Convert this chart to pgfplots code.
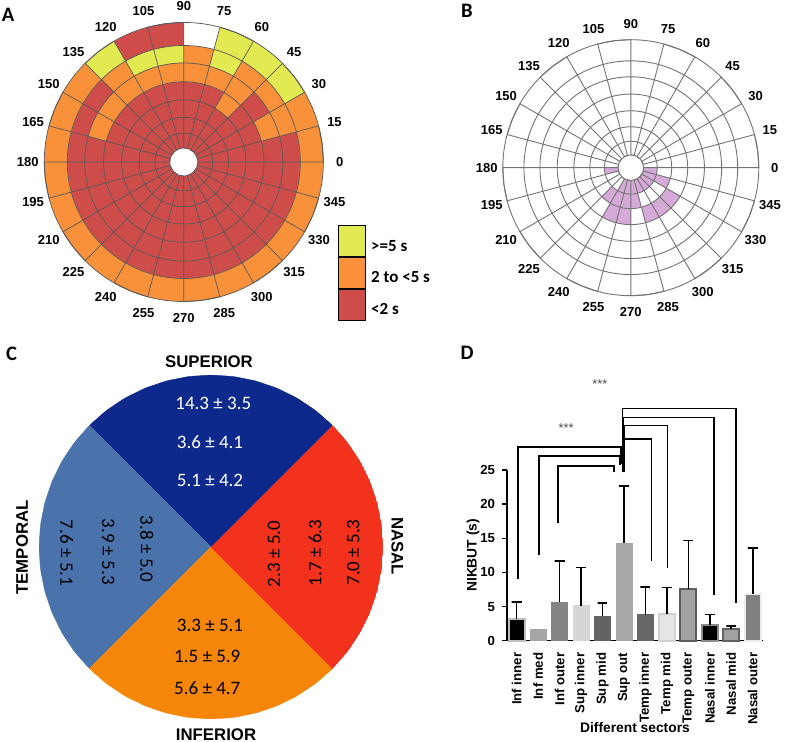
\documentclass[border=0pt]{standalone}
\usepackage{fontspec}
\setmainfont{Liberation Sans}
\newfontfamily\calibri{Carlito}
\usepackage{pgfplots}
\pgfplotsset{compat=1.18}
\usepgfplotslibrary{polar}

\definecolor{Ared}{HTML}{CE4C4A}
\definecolor{Aora}{HTML}{F8913A}
\definecolor{Ayel}{HTML}{E2EA52}
\definecolor{Bpur}{HTML}{D5AAD8}
\definecolor{Csup}{HTML}{0D298C}
\definecolor{Ctem}{HTML}{4A73AC}
\definecolor{Cnas}{HTML}{F2321C}
\definecolor{Cinf}{HTML}{F5860A}

% ring radii (outer = 10): 1, 2.07, 3.2, 4.45, 5.75, 7.1, 8.35, 10
\pgfplotsset{
  ringaxis/.style={
    scale only axis, ymin=0,
    xtick={0,15,...,345},
    xticklabel={\pgfmathprintnumber[assume math mode=true]{\tick}},
    xticklabel style={anchor=center, font=\bfseries\fontsize{6.5}{7}\selectfont},
    ytick={1,2.07,3.2,4.45,5.75,7.1,8.35,10},
    yticklabels={},
    xmajorgrids=false, ymajorgrids=true,
    axis line style={draw=none},
    xtick style={draw=none}, ytick style={draw=none},
    axis on top,
  },
  cell/.style={draw=none, forget plot, fill=#1},
  mybar/.style={ybar, bar width=8pt, bar shift=0pt, forget plot},
  errl/.style={black, line width=0.8pt, forget plot},
  bracket/.style={black, line width=0.85pt, forget plot},
}

\begin{document}
\begin{tikzpicture}
\useasboundingbox (0,0) rectangle (393pt,-371pt);

% ---------------- A ----------------
\begin{polaraxis}[ringaxis,
  at={(91.9pt,-81pt)}, anchor=center,
  width=156pt, height=156pt, ymax=11.18,
  major grid style={black!65, line width=0.35pt},
  legend style={at={(axis description cs:0.994,0.298)}, anchor=north west,
    draw=none, fill=none, inner sep=0pt, row sep=0pt, column sep=1pt,
    cells={anchor=west},
    nodes={inner sep=1.5pt, font=\calibri\bfseries\fontsize{8.5}{10}\selectfont}},
  legend image code/.code={\draw[#1, draw=black, line width=0.4pt] (0pt,-4.9pt) rectangle (13.5pt,10.6pt);},
]
\addplot[cell=Ared] coordinates {(0,10) (7.5,10) (15,10) (22.5,10) (30,10) (37.5,10) (45,10) (52.5,10) (60,10) (67.5,10) (75,10) (82.5,10) (90,10) (97.5,10) (105,10) (112.5,10) (120,10) (127.5,10) (135,10) (142.5,10) (150,10) (157.5,10) (165,10) (172.5,10) (180,10) (187.5,10) (195,10) (202.5,10) (210,10) (217.5,10) (225,10) (232.5,10) (240,10) (247.5,10) (255,10) (262.5,10) (270,10) (277.5,10) (285,10) (292.5,10) (300,10) (307.5,10) (315,10) (322.5,10) (330,10) (337.5,10) (345,10) (352.5,10)};
% ring 7
\addplot[cell=Aora] coordinates {(135,10) (142.5,10) (150,10) (157.5,10) (165,10) (172.5,10) (180,10) (187.5,10) (195,10) (202.5,10) (210,10) (217.5,10) (225,10) (232.5,10) (240,10) (247.5,10) (255,10) (262.5,10) (270,10) (277.5,10) (285,10) (292.5,10) (300,10) (307.5,10) (315,10) (322.5,10) (330,10) (337.5,10) (345,10) (352.5,10) (360,10)
 (360,8.35) (352.5,8.35) (345,8.35) (337.5,8.35) (330,8.35) (322.5,8.35) (315,8.35) (307.5,8.35) (300,8.35) (292.5,8.35) (285,8.35) (277.5,8.35) (270,8.35) (262.5,8.35) (255,8.35) (247.5,8.35) (240,8.35) (232.5,8.35) (225,8.35) (217.5,8.35) (210,8.35) (202.5,8.35) (195,8.35) (187.5,8.35) (180,8.35) (172.5,8.35) (165,8.35) (157.5,8.35) (150,8.35) (142.5,8.35) (135,8.35)};
\addplot[cell=Aora] coordinates {(0,10) (7.5,10) (15,10) (22.5,10) (30,10) (30,8.35) (22.5,8.35) (15,8.35) (7.5,8.35) (0,8.35)};
\addplot[cell=Ayel] coordinates {(30,10) (37.5,10) (45,10) (52.5,10) (60,10) (67.5,10) (75,10) (75,8.35) (67.5,8.35) (60,8.35) (52.5,8.35) (45,8.35) (37.5,8.35) (30,8.35)};
\addplot[cell=white] coordinates {(75,10) (82.5,10) (90,10) (90,8.35) (82.5,8.35) (75,8.35)};
\addplot[cell=Ayel] coordinates {(120,10) (127.5,10) (135,10) (135,8.35) (127.5,8.35) (120,8.35)};
% ring 6
\addplot[cell=Aora] coordinates {(15,8.35) (22.5,8.35) (30,8.35) (37.5,8.35) (45,8.35) (52.5,8.35) (60,8.35) (60,7.1) (52.5,7.1) (45,7.1) (37.5,7.1) (30,7.1) (22.5,7.1) (15,7.1)};
\addplot[cell=Ayel] coordinates {(60,8.35) (67.5,8.35) (75,8.35) (75,7.1) (67.5,7.1) (60,7.1)};
\addplot[cell=Aora] coordinates {(75,8.35) (82.5,8.35) (90,8.35) (90,7.1) (82.5,7.1) (75,7.1)};
\addplot[cell=Ayel] coordinates {(90,8.35) (97.5,8.35) (105,8.35) (112.5,8.35) (120,8.35) (120,7.1) (112.5,7.1) (105,7.1) (97.5,7.1) (90,7.1)};
\addplot[cell=Aora] coordinates {(120,8.35) (127.5,8.35) (135,8.35) (135,7.1) (127.5,7.1) (120,7.1)};
% ring 5
\addplot[cell=Aora] coordinates {(15,7.1) (22.5,7.1) (30,7.1) (30,5.75) (22.5,5.75) (15,5.75)};
\addplot[cell=Aora] coordinates {(45,7.1) (52.5,7.1) (60,7.1) (67.5,7.1) (75,7.1) (82.5,7.1) (90,7.1) (97.5,7.1) (105,7.1) (112.5,7.1) (120,7.1) (127.5,7.1) (135,7.1) (142.5,7.1) (150,7.1) (157.5,7.1) (165,7.1)
 (165,5.75) (157.5,5.75) (150,5.75) (142.5,5.75) (135,5.75) (127.5,5.75) (120,5.75) (112.5,5.75) (105,5.75) (97.5,5.75) (90,5.75) (82.5,5.75) (75,5.75) (67.5,5.75) (60,5.75) (52.5,5.75) (45,5.75)};
% ring 4
\addplot[cell=Aora] coordinates {(45,5.75) (52.5,5.75) (60,5.75) (60,4.45) (52.5,4.45) (45,4.45)};
% hole
\addplot[cell=white] coordinates {(0,1) (15,1) (30,1) (45,1) (60,1) (75,1) (90,1) (105,1) (120,1) (135,1) (150,1) (165,1) (180,1) (195,1) (210,1) (225,1) (240,1) (255,1) (270,1) (285,1) (300,1) (315,1) (330,1) (345,1)};
% sector lines
\addplot[black!65, line width=0.35pt, forget plot] coordinates {(0,1) (0,10) (7.5,10) (15,10) (15,1) (30,1) (30,10) (37.5,10) (45,10) (45,1) (60,1) (60,10) (67.5,10) (75,10) (75,1) (90,1) (90,10) (97.5,10) (105,10) (105,1) (120,1) (120,10) (127.5,10) (135,10) (135,1) (150,1) (150,10) (157.5,10) (165,10) (165,1) (180,1) (180,10) (187.5,10) (195,10) (195,1) (210,1) (210,10) (217.5,10) (225,10) (225,1) (240,1) (240,10) (247.5,10) (255,10) (255,1) (270,1) (270,10) (277.5,10) (285,10) (285,1) (300,1) (300,10) (307.5,10) (315,10) (315,1) (330,1) (330,10) (337.5,10) (345,10) (345,1)};
\addlegendimage{fill=Ayel}
\addlegendentry{>=5 s}
\addlegendimage{fill=Aora}
\addlegendentry{2 to <5 s}
\addlegendimage{fill=Ared}
\addlegendentry{<2 s}
\end{polaraxis}

% ---------------- B ----------------
\begin{polaraxis}[ringaxis,
  at={(315.4pt,-83.85pt)}, anchor=center,
  width=144pt, height=144pt, ymax=11.25,
  major grid style={black!55, line width=0.45pt},
]
\addplot[cell=Bpur] coordinates {(180,2.07) (195,2.07) (195,1) (180,1)};
\addplot[cell=Bpur] coordinates {(240,2.07) (255,2.07) (270,2.07) (285,2.07) (300,2.07) (315,2.07) (330,2.07) (345,2.07) (360,2.07) (360,1) (345,1) (330,1) (315,1) (300,1) (285,1) (270,1) (255,1) (240,1)};
\addplot[cell=Bpur] coordinates {(225,3.2) (240,3.2) (255,3.2) (270,3.2) (285,3.2) (285,2.07) (270,2.07) (255,2.07) (240,2.07) (225,2.07)};
\addplot[cell=Bpur] coordinates {(330,3.2) (345,3.2) (345,2.07) (330,2.07)};
\addplot[cell=Bpur] coordinates {(240,4.45) (247.5,4.45) (255,4.45) (262.5,4.45) (270,4.45) (270,3.2) (262.5,3.2) (255,3.2) (247.5,3.2) (240,3.2)};
\addplot[cell=Bpur] coordinates {(285,4.45) (292.5,4.45) (300,4.45) (307.5,4.45) (315,4.45) (322.5,4.45) (330,4.45) (330,3.2) (322.5,3.2) (315,3.2) (307.5,3.2) (300,3.2) (292.5,3.2) (285,3.2)};
\addplot[black!55, line width=0.45pt, forget plot] coordinates {(0,1) (0,10) (7.5,10) (15,10) (15,1) (30,1) (30,10) (37.5,10) (45,10) (45,1) (60,1) (60,10) (67.5,10) (75,10) (75,1) (90,1) (90,10) (97.5,10) (105,10) (105,1) (120,1) (120,10) (127.5,10) (135,10) (135,1) (150,1) (150,10) (157.5,10) (165,10) (165,1) (180,1) (180,10) (187.5,10) (195,10) (195,1) (210,1) (210,10) (217.5,10) (225,10) (225,1) (240,1) (240,10) (247.5,10) (255,10) (255,1) (270,1) (270,10) (277.5,10) (285,10) (285,1) (300,1) (300,10) (307.5,10) (315,10) (315,1) (330,1) (330,10) (337.5,10) (345,10) (345,1)};
\end{polaraxis}

% ---------------- C ----------------
\begin{polaraxis}[hide axis, scale only axis,
  at={(105.5pt,-273.5pt)}, anchor=center,
  width=172pt, height=172pt, ymin=0, ymax=10]
\addplot[fill=Csup, draw=Csup, line width=0.2pt] coordinates {(0,0) (45,10) (52.5,10) (60,10) (67.5,10) (75,10) (82.5,10) (90,10) (97.5,10) (105,10) (112.5,10) (120,10) (127.5,10) (135,10)};
\addplot[fill=Ctem, draw=Ctem, line width=0.2pt] coordinates {(0,0) (135,10) (142.5,10) (150,10) (157.5,10) (165,10) (172.5,10) (180,10) (187.5,10) (195,10) (202.5,10) (210,10) (217.5,10) (225,10)};
\addplot[fill=Cinf, draw=Cinf, line width=0.2pt] coordinates {(0,0) (225,10) (232.5,10) (240,10) (247.5,10) (255,10) (262.5,10) (270,10) (277.5,10) (285,10) (292.5,10) (300,10) (307.5,10) (315,10)};
\addplot[fill=Cnas, draw=Cnas, line width=0.2pt] coordinates {(0,0) (315,10) (322.5,10) (330,10) (337.5,10) (345,10) (352.5,10) (360,10) (7.5,10) (15,10) (22.5,10) (30,10) (37.5,10) (45,10)};
\end{polaraxis}

% ---------------- D ----------------
\begin{axis}[
  at={(253.5pt,-320.35pt)}, anchor=south west,
  scale only axis, width=128pt, height=85.35pt,
  xmin=-0.45, xmax=11.48, ymin=0, ymax=25,
  axis x line*=bottom, axis y line*=left,
  axis line style={line width=0.65pt},
  xtick={0,...,11},
  xticklabels={Inf inner,Inf med,Inf outer,Sup inner,Sup mid,Sup out,Temp inner,Temp mid,Temp outer,Nasal inner,Nasal mid,Nasal outer},
  xticklabel style={rotate=90, anchor=east, font=\bfseries\fontsize{6.6}{7}\selectfont},
  xtick style={draw=none},
  ytick={0,5,...,25},
  yticklabel style={font=\bfseries\fontsize{6.6}{7}\selectfont},
  ytick style={line width=0.65pt, black},
  tick align=outside, major tick length=2.5pt,
  /pgf/number format/assume math mode=true,
  ylabel={NIKBUT (s)}, xlabel={Different sectors},
  every axis y label/.style={at={(axis description cs:-0.133,0.5)}, rotate=90, anchor=center, font=\bfseries\fontsize{6.9}{8}\selectfont},
  every axis x label/.style={at={(axis description cs:0.5,-0.511)}, anchor=center, font=\bfseries\fontsize{6.9}{8}\selectfont},
  clip=false,
]
\addplot[mybar, fill=black, draw=black!25, line width=1pt] coordinates {(0,3.2)};
\addplot[mybar, fill=black!35, draw=black!35] coordinates {(1,1.6)};
\addplot[mybar, fill=black!48, draw=black!48] coordinates {(2,5.6)};
\addplot[mybar, fill=black!16, draw=black!16] coordinates {(3,5.1)};
\addplot[mybar, fill=black!61, draw=black!61] coordinates {(4,3.6)};
\addplot[mybar, fill=black!34, draw=black!34] coordinates {(5,14.3)};
\addplot[mybar, fill=black!60, draw=black!60] coordinates {(6,3.8)};
\addplot[mybar, fill=black!10, draw=black!18, line width=1pt] coordinates {(7,3.9)};
\addplot[mybar, fill=black!36, draw=black!63, line width=1pt] coordinates {(8,7.6)};
\addplot[mybar, fill=black, draw=black!45, line width=1pt] coordinates {(9,2.3)};
\addplot[mybar, fill=black!37, draw=black!62, line width=1pt] coordinates {(10,1.7)};
\addplot[mybar, fill=black!50, draw=black!7, line width=1pt] coordinates {(11,6.9)};
% upper error bars: mean up to mean + error, with a cap
\addplot[errl] coordinates {(0,3.2) (0,5.7) (-0.23,5.7) (0.23,5.7)};
\addplot[errl] coordinates {(2,5.6) (2,11.7) (1.77,11.7) (2.23,11.7)};
\addplot[errl] coordinates {(3,5.1) (3,10.7) (2.77,10.7) (3.23,10.7)};
\addplot[errl] coordinates {(4,3.6) (4,5.5) (3.77,5.5) (4.23,5.5)};
\addplot[errl] coordinates {(5,14.3) (5,22.65) (4.77,22.65) (5.23,22.65)};
\addplot[errl] coordinates {(6,3.8) (6,7.9) (5.77,7.9) (6.23,7.9)};
\addplot[errl] coordinates {(7,3.9) (7,7.8) (6.77,7.8) (7.23,7.8)};
\addplot[errl] coordinates {(8,7.6) (8,14.65) (7.77,14.65) (8.23,14.65)};
\addplot[errl] coordinates {(9,2.3) (9,3.86) (8.77,3.86) (9.23,3.86)};
\addplot[errl] coordinates {(10,1.7) (10,2.15) (9.77,2.15) (10.23,2.15)};
\addplot[errl] coordinates {(11,6.9) (11,13.6) (10.77,13.6) (11.23,13.6)};
% significance brackets
\addplot[bracket] coordinates {(0.07,9.1) (0.07,28.4) (4.85,28.4) (4.85,25.9)};
\addplot[bracket] coordinates {(1.04,12.5) (1.04,27.0) (4.8,27.0) (4.8,25.8)};
\addplot[bracket] coordinates {(1.94,17.2) (1.94,25.6) (4.55,25.6) (4.55,24.7)};
\addplot[bracket] coordinates {(4.93,24.7) (4.93,34.0) (10.23,34.0) (10.23,5.5)};
\addplot[bracket] coordinates {(4.96,24.7) (4.96,32.7) (9.2,32.7) (9.2,6.7)};
\addplot[bracket] coordinates {(5.0,24.7) (5.0,31.5) (7.03,31.5) (7.03,10.6)};
\addplot[bracket] coordinates {(5.0,24.7) (5.0,29.5) (6.29,29.5) (6.29,11.6)};
\node[font=\fontsize{6.4}{7}\selectfont, text=black!70] at (axis cs:2.3,31.1) {***};
\node[font=\fontsize{6.4}{7}\selectfont, text=black!70] at (axis cs:3.88,37.6) {***};
\end{axis}

% pie texts
\begin{scope}[every node/.style={inner sep=0pt, anchor=center}]
\node[font=\bfseries\fontsize{8.4}{9}\selectfont] at (104.5pt,-180.75pt) {SUPERIOR};
\node[font=\bfseries\fontsize{8.4}{9}\selectfont] at (108pt,-367.5pt) {INFERIOR};
\node[font=\bfseries\fontsize{8.4}{9}\selectfont, rotate=90] at (11pt,-273.75pt) {TEMPORAL};
\node[font=\bfseries\fontsize{8.4}{9}\selectfont, rotate=-90] at (198.75pt,-273pt) {NASAL};
\begin{scope}[every node/.append style={font=\calibri\fontsize{9.5}{11}\selectfont}]
\node[text=white] at (106.65pt,-201.65pt) {14.3 ± 3.5};
\node[text=white] at (105pt,-220.85pt) {3.6 ± 4.1};
\node[text=white] at (105pt,-240.35pt) {5.1 ± 4.2};
\node at (105pt,-312.5pt) {3.3 ± 5.1};
\node at (103.65pt,-328pt) {1.5 ± 5.9};
\node at (103.65pt,-344.15pt) {5.6 ± 4.7};
\node[rotate=-90] at (33.35pt,-276.5pt) {7.6 ± 5.1};
\node[rotate=-90] at (54.15pt,-275.85pt) {3.9 ± 5.3};
\node[rotate=-90] at (73.35pt,-274.5pt) {3.8 ± 5.0};
\node[rotate=90] at (137pt,-277pt) {2.3 ± 5.0};
\node[rotate=90] at (157.5pt,-276.5pt) {1.7 ± 6.3};
\node[rotate=90] at (176.65pt,-276.25pt) {7.0 ± 5.3};
\end{scope}
% panel letters
\begin{scope}[every node/.append style={font=\calibri\bfseries\fontsize{10.3}{12}\selectfont}]
\node at (4pt,-7.5pt) {A};
\node at (233.5pt,-5.5pt) {B};
\node at (5.85pt,-177pt) {C};
\node at (233.5pt,-176.5pt) {D};
\end{scope}
\end{scope}
\end{tikzpicture}
\end{document}
